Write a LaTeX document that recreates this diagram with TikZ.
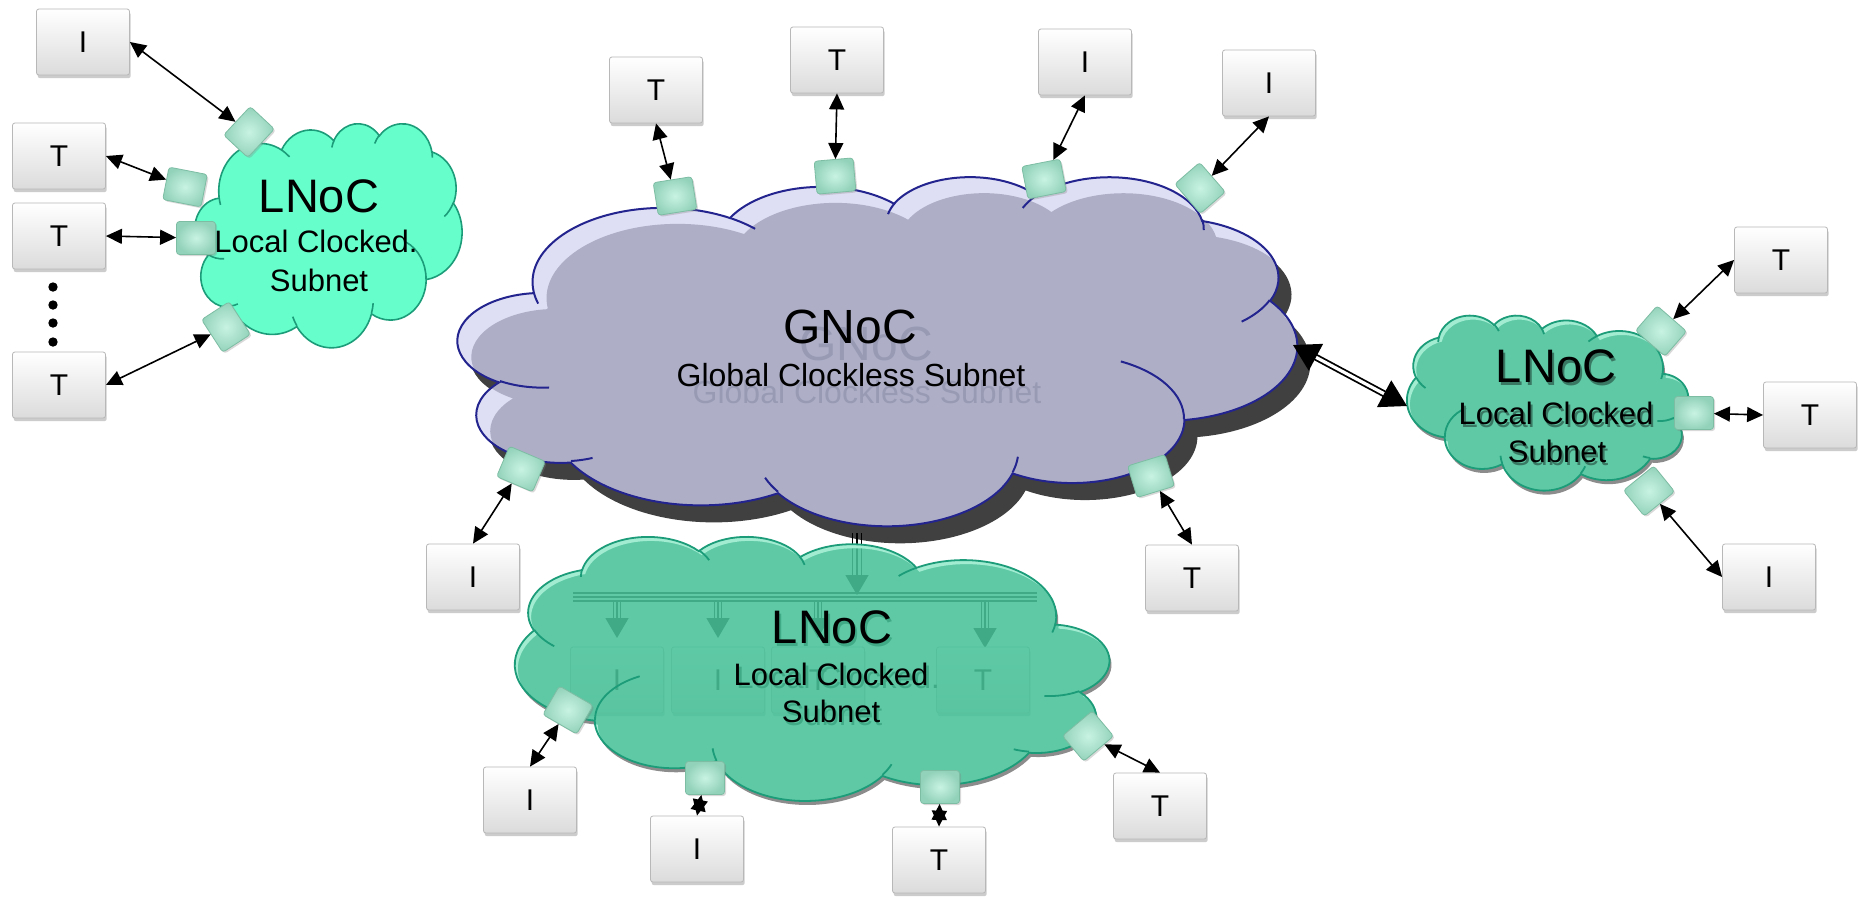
\documentclass[tikz,border=0pt]{standalone}
\usepackage{fontspec}
\setmainfont{Liberation Sans}
\usetikzlibrary{arrows.meta,shadows}

\definecolor{gnocmain}{HTML}{AEAFC7}
\definecolor{gnocrim}{HTML}{DEDEF4}
\definecolor{gnocline}{HTML}{24248F}
\definecolor{gnocghost}{HTML}{9899B3}
\definecolor{gnocshade}{HTML}{404040}
\definecolor{lnocbright}{HTML}{66FFCC}
\definecolor{lnocline}{HTML}{1C9C78}
\definecolor{lnocfill}{HTML}{5FC9A5}
\definecolor{lnocdeep}{HTML}{49C299}
\definecolor{lnocrim}{HTML}{A2ECD2}
\definecolor{chipin}{HTML}{C8F3E3}
\definecolor{chipout}{HTML}{93D2BA}
\definecolor{chipedge}{HTML}{7DBDA4}

% Cloud outline built from elliptic arcs; the angles are given as visual
% angles and converted here to parametric start/delta angles.
\newcommand\cqang[5]{%
  \pgfmathsetmacro\cqt{atan2((#2)*sin(#4),(#3)*cos(#4))}%
  \pgfmathsetmacro\cqu{atan2((#2)*sin((#4)+(#5)),(#3)*cos((#4)+(#5)))}%
  \pgfmathsetmacro\cqv{mod((\cqu)-(\cqt)+540,360)-180}%
  \expandafter\xdef\csname cqs#1\endcsname{\cqt}%
  \expandafter\xdef\csname cqd#1\endcsname{\cqv}%
}
\cqang{A}{6.753}{9.19}{-190.4875}{123.7805}
\cqang{B}{5.333}{7.267}{-144.1024}{89.9452}
\cqang{C}{4.365}{5.945}{-145.8079}{99.7230}
\cqang{D}{4.857}{6.595}{-130.9861}{117.2417}
\cqang{E}{5.333}{7.273}{-78.7089}{109.0269}
\cqang{F}{6.775}{9.22}{-46.2673}{130.2690}
\cqang{G}{5.785}{7.867}{0.6250}{114.0333}
\cqang{H}{6.752}{9.215}{22.4516}{115.1726}
\cqang{I}{7.72}{10.543}{66.2426}{75.7110}
\cqang{J}{4.36}{5.918}{-274.9421}{146.7356}
\cqang{K}{4.345}{5.945}{-246.8285}{152.5189}
\cqang{a}{4.345}{5.945}{86.7420}{26.4295}
\cqang{b}{4.36}{5.918}{73.6105}{11.4475}
\cqang{c}{6.752}{9.215}{137.6242}{14.0811}
\cqang{d}{6.752}{9.215}{6.4533}{15.9984}
\cqang{e}{5.785}{7.867}{-70.2924}{70.9174}
\cqang{f}{5.333}{7.273}{30.3180}{27.7515}
\cqang{g}{4.857}{6.595}{-13.7443}{14.8589}
\cqang{h}{4.857}{6.595}{-149.1815}{18.1954}
\cqang{i}{4.365}{5.945}{-163.4943}{17.6864}
\cqang{j}{6.753}{9.19}{-66.7070}{12.3194}
\cqang{k}{6.753}{9.19}{157.6544}{11.8582}

% closed cloud outline, moved by (#1,#2) pixels
\newcommand\cloudpathat[2]{%
  ({3.9+(#1)*43.2/(\cqW)},{14.37+(#2)*43.2/(\cqH)})
  arc[x radius=6.753,y radius=9.19,start angle=\cqsA,delta angle=\cqdA]
  arc[x radius=5.333,y radius=7.267,start angle=\cqsB,delta angle=\cqdB]
  arc[x radius=4.365,y radius=5.945,start angle=\cqsC,delta angle=\cqdC]
  arc[x radius=4.857,y radius=6.595,start angle=\cqsD,delta angle=\cqdD]
  arc[x radius=5.333,y radius=7.273,start angle=\cqsE,delta angle=\cqdE]
  arc[x radius=6.775,y radius=9.22,start angle=\cqsF,delta angle=\cqdF]
  arc[x radius=5.785,y radius=7.867,start angle=\cqsG,delta angle=\cqdG]
  arc[x radius=6.752,y radius=9.215,start angle=\cqsH,delta angle=\cqdH]
  arc[x radius=7.72,y radius=10.543,start angle=\cqsI,delta angle=\cqdI]
  arc[x radius=4.36,y radius=5.918,start angle=\cqsJ,delta angle=\cqdJ]
  arc[x radius=4.345,y radius=5.945,start angle=\cqsK,delta angle=\cqdK]
  -- cycle}

% inner puff creases
\newcommand\creasepath{%
  (4.693,26.177) arc[x radius=4.345,y radius=5.945,start angle=\cqsa,delta angle=\cqda]
  (6.928,34.899) arc[x radius=4.36,y radius=5.918,start angle=\cqsb,delta angle=\cqdb]
  (16.478,39.09) arc[x radius=6.752,y radius=9.215,start angle=\cqsc,delta angle=\cqdc]
  (28.827,34.751) arc[x radius=6.752,y radius=9.215,start angle=\cqsd,delta angle=\cqdd]
  (34.129,22.954) arc[x radius=5.785,y radius=7.867,start angle=\cqse,delta angle=\cqde]
  (41.798,15.354) arc[x radius=5.333,y radius=7.273,start angle=\cqsf,delta angle=\cqdf]
  (38.324,5.426) arc[x radius=4.857,y radius=6.595,start angle=\cqsg,delta angle=\cqdg]
  (29.078,3.952) arc[x radius=4.857,y radius=6.595,start angle=\cqsh,delta angle=\cqdh]
  (22.141,4.72) arc[x radius=4.365,y radius=5.945,start angle=\cqsi,delta angle=\cqdi]
  (14,5.192) arc[x radius=6.753,y radius=9.19,start angle=\cqsj,delta angle=\cqdj]
  (4.127,15.789) arc[x radius=6.753,y radius=9.19,start angle=\cqsk,delta angle=\cqdk]}

\begin{document}
\begin{tikzpicture}[x=0.5pt,y=-0.5pt,
  cloudbox/.style n args={4}{shift={(#1,#2)},xscale={(#3)/43.2},yscale={(#4)/43.2},
    /utils/exec={\def\cqW{#3}\def\cqH{#4}}},
  cloudflip/.style n args={4}{shift={({(#1)+(#3)},#2)},xscale={-(#3)/43.2},yscale={(#4)/43.2},
    /utils/exec={\def\cqW{-(#3)}\def\cqH{#4}}},
  tbox/.style={rectangle, minimum width=46.5pt, minimum height=33pt, inner sep=0pt,
    rounded corners=1.2pt, top color=white, bottom color=black!14, draw=black!28,
    line width=0.4pt, drop shadow={shadow xshift=0.6pt,shadow yshift=-1.6pt,opacity=0.4},
    font=\fontsize{15pt}{18pt}\selectfont},
  chip/.style={rectangle, minimum width=19.5pt, minimum height=16.5pt, inner sep=0pt,
    rounded corners=1.5pt, inner color=chipin, outer color=chipout, draw=chipedge,
    line width=0.4pt, drop shadow={shadow xshift=0.8pt,shadow yshift=-0.8pt,opacity=0.3}},
  bigtxt/.style={inner sep=0pt, anchor=base, font=\fontsize{23.5pt}{28pt}\selectfont},
  subtxt/.style={inner sep=0pt, anchor=base, font=\fontsize{15.5pt}{18pt}\selectfont},
  biarrow/.style={{Triangle[length=8pt,width=7.5pt]}-{Triangle[length=8pt,width=7.5pt]}, line width=0.8pt},
  fadeline/.style={line width=0.75pt, black},
]
\path[use as bounding box, fill=white] (0,0) rectangle (1858,896);

% ---------- global clockless subnet ----------
\begin{scope}[cloudbox={458}{176}{839}{349}]
  \fill[gnocshade] \cloudpathat{13}{17};
  \fill[gnocrim] \cloudpathat{0}{0};
  \begin{scope}
    \clip \cloudpathat{0}{0};
    \fill[gnocmain] \cloudpathat{14}{16};
  \end{scope}
  \draw[gnocline, line width=1pt] \cloudpathat{0}{0};
  \draw[gnocline, line width=1pt] \creasepath;
\end{scope}
\node[bigtxt, text=gnocghost, font=\fontsize{24pt}{28pt}\selectfont] (gnocGa) at (866,360) {GNoC};
\node[subtxt, text=gnocghost, font=\fontsize{16pt}{19pt}\selectfont] (gnocGb) at (867,403) {Global Clockless Subnet};
\node[bigtxt, font=\fontsize{24pt}{28pt}\selectfont] (gnocA) at (850,343) {GNoC};
\node[subtxt, font=\fontsize{16pt}{19pt}\selectfont] (gnocB) at (851,386) {Global Clockless Subnet};

% ---------- local subnet, upper left ----------
\begin{scope}[cloudbox={195}{123}{267}{224}]
  \filldraw[fill=lnocbright, draw=lnocline, line width=0.8pt] \cloudpathat{0}{0};
  \draw[lnocline, line width=0.8pt] \creasepath;
\end{scope}
\node[bigtxt] (ulA) at (319,212) {LNoC};
\node[subtxt] (ulB) at (316,252) {Local Clocked.};
\node[subtxt] (ulC) at (319,291) {Subnet};

% ---------- local subnet, right ----------
\begin{scope}[cloudflip={1407}{315}{281}{175}]
  \fill[black!45] \cloudpathat{2}{4};
  \fill[lnocfill] \cloudpathat{0}{0};
  \begin{scope}
    \clip \cloudpathat{0}{0};
    \fill[lnocrim, even odd rule] \cloudpathat{0}{0} \cloudpathat{3}{4};
  \end{scope}
  \draw[lnocline, line width=0.9pt] \cloudpathat{0}{0};
  \draw[lnocline, line width=0.9pt] \creasepath;
\end{scope}
\node[bigtxt, text=lnocfill!60!black] (rtAs) at (1558,385) {LNoC};
\node[subtxt, text=lnocfill!60!black] (rtBs) at (1558,427) {Local Clocked};
\node[subtxt, text=lnocfill!60!black] (rtCs) at (1559,465) {Subnet};
\node[bigtxt] (rtA) at (1556,382) {LNoC};
\node[subtxt] (rtB) at (1556,424) {Local Clocked};
\node[subtxt] (rtC) at (1557,462) {Subnet};

% ---------- local subnet, bottom (translucent) ----------
\begin{scope}[cloudflip={515}{536}{594}{264}]
  \fill[black!45] \cloudpathat{2}{4};
  \fill[white] \cloudpathat{0}{0};
\end{scope}
% link from the global subnet into the bus
\coordinate (gB) at (857,533);
\coordinate (gBh) at (857,575);
\coordinate (gBt) at (857,595);
\draw[fadeline] ([xshift=-2.35pt]gB) -- ([xshift=-2.35pt]gBh);
\draw[fadeline] ([xshift=2.35pt]gB) -- ([xshift=2.35pt]gBh);
\draw[fadeline, -{Triangle[length=10pt,width=11.5pt]}] (gB) -- (gBt);
% internal bus and its drops
\coordinate (busL) at (573,597);
\coordinate (busR) at (1037,597);
\draw[fadeline] ([yshift=2pt]busL) -- ([yshift=2pt]busR);
\draw[fadeline] (busL) -- (busR);
\draw[fadeline] ([yshift=-2pt]busL) -- ([yshift=-2pt]busR);
\foreach \bx/\tp [count=\k] in {617/638,718/638,818/638,985/648}{
  \coordinate (dt\k) at (\bx,601);
  \coordinate (db\k) at (\bx,{\tp-20});
  \coordinate (dp\k) at (\bx,\tp);
  \draw[fadeline] ([xshift=-1.65pt]dt\k) -- ([xshift=-1.65pt]db\k);
  \draw[fadeline] ([xshift=1.65pt]dt\k) -- ([xshift=1.65pt]db\k);
  \draw[fadeline, -{Triangle[length=10pt,width=11.5pt]}] (dt\k) -- (dp\k);
}
\node[tbox] (F1) at (617,680) {I};
\node[tbox] (F2) at (718,680) {I};
\node[tbox] (F3) at (818,680) {T};
\node[tbox] (F4) at (983,680) {T};
\node[bigtxt] (btAs) at (834,646) {LNoC};
\node[subtxt, anchor=base west] (btBs) at (736,688) {Local Clocked.};
\node[subtxt] (btCs) at (833,725) {Subnet};
\begin{scope}[cloudflip={515}{536}{594}{264}]
  \fill[lnocdeep, fill opacity=0.88] \cloudpathat{0}{0};
  \begin{scope}
    \clip \cloudpathat{0}{0};
    \fill[lnocrim, even odd rule] \cloudpathat{0}{0} \cloudpathat{3}{4};
  \end{scope}
  \draw[lnocline, line width=0.9pt] \cloudpathat{0}{0};
  \draw[lnocline, line width=0.9pt] \creasepath;
\end{scope}
\node[bigtxt] (btA) at (832,643) {LNoC};
\node[subtxt] (btB) at (831,685) {Local Clocked};
\node[subtxt] (btC) at (831,722) {Subnet};

% ---------- link between global and right local subnet ----------
\coordinate (gR) at (1293,345);
\coordinate (rL) at (1407,406);
\draw[{Triangle[length=13pt,width=15pt]}-{Triangle[length=13pt,width=15pt]},
  line width=0.9pt, double=white, double distance=1.6pt] (gR) -- (rL);

% ---------- network interfaces ----------
\node[chip, rotate=47] (c1) at (249,132) {};
\node[chip, rotate=-11] (c2) at (185,187) {};
\node[chip] (c3) at (196,238) {};
\node[chip, rotate=-57] (c4) at (226,327) {};
\node[chip, rotate=9] (ca) at (675,196) {};
\node[chip, rotate=5] (cb) at (835,176) {};
\node[chip, rotate=11] (cc) at (1044,179) {};
\node[chip, rotate=-49] (cd) at (1200,188) {};
\node[chip, rotate=-23] (ce) at (521,469) {};
\node[chip, rotate=17] (cf) at (1151,476) {};
\node[chip, rotate=-41] (cr1) at (1661,331) {};
\node[chip] (cr2) at (1694,413) {};
\node[chip, rotate=39] (cr3) at (1649,491) {};
\node[chip, rotate=-30] (cb1) at (568,710) {};
\node[chip] (cb2) at (705,778) {};
\node[chip] (cb3) at (940,787) {};
\node[chip, rotate=40] (cb4) at (1088,736) {};

% ---------- initiators and targets ----------
\node[tbox] (I1) at (83,42) {I};
\node[tbox] (T1) at (59,156) {T};
\node[tbox] (T2) at (59,236) {T};
\node[tbox] (T3) at (59,385) {T};
\node[tbox] (Ta) at (656,90) {T};
\node[tbox] (Tb) at (837,60) {T};
\node[tbox] (Ic) at (1085,62) {I};
\node[tbox] (Id) at (1269,83) {I};
\node[tbox] (Ie) at (473,577) {I};
\node[tbox] (Tf) at (1192,578) {T};
\node[tbox] (Tr1) at (1781,260) {T};
\node[tbox] (Tr2) at (1810,415) {T};
\node[tbox] (Ir3) at (1769,577) {I};
\node[tbox] (Ib1) at (530,800) {I};
\node[tbox] (Ib2) at (697,849) {I};
\node[tbox] (Tb3) at (939,860) {T};
\node[tbox] (Tb4) at (1160,806) {T};

\foreach \yy in {287,305,323,342} \fill (53,\yy) circle[radius=4.7];

% ---------- attachments ----------
\draw[biarrow] (I1.east) -- (c1);
\draw[biarrow] (T1.east) -- (c2);
\draw[biarrow] (T2.east) -- (c3);
\draw[biarrow] (T3.east) -- (c4);
\draw[biarrow] (Ta.south) -- (ca);
\draw[biarrow] (Tb.south) -- (cb);
\draw[biarrow] (Ic.south) -- (cc);
\draw[biarrow] (Id.south) -- (cd);
\draw[biarrow] (ce) -- (Ie.north);
\draw[biarrow] (cf) -- (Tf.north);
\draw[biarrow] (cr1) -- (Tr1.west);
\draw[biarrow] (cr2) -- (Tr2.west);
\draw[biarrow] (cr3) -- (Ir3.west);
\draw[biarrow] (cb1) -- (Ib1.north);
\draw[biarrow] (cb2) -- (Ib2.north);
\draw[biarrow] (cb3) -- (Tb3.north);
\draw[biarrow] (cb4) -- (Tb4.north);
\end{tikzpicture}
\end{document}
